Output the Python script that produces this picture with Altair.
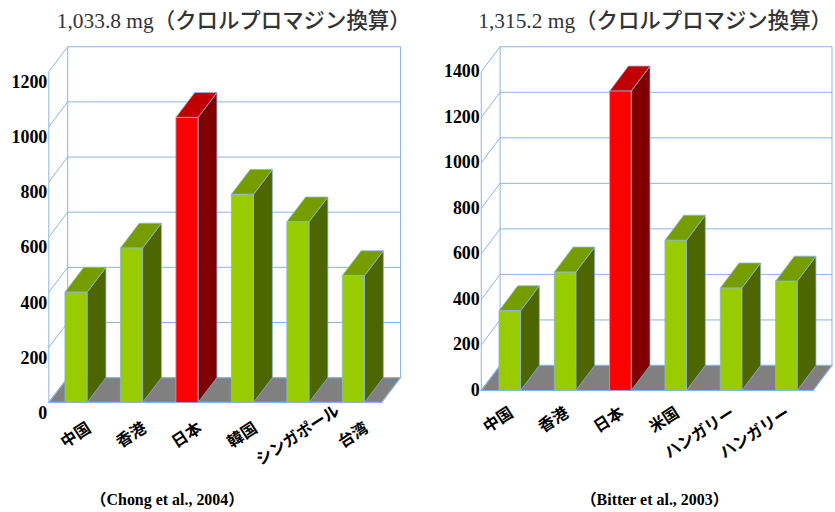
import math
import altair as alt
import pandas as pd

# ---------------- data ----------------
left_cats = ["中国", "香港", "日本", "韓国", "シンガポール", "台湾"]
left_vals = [400, 560, 1033.8, 755, 655, 460]
left_ticks = [0, 200, 400, 600, 800, 1000, 1200]
left_title = "1,033.8 mg（クロルプロマジン換算）"
left_source = "（Chong et al., 2004）"

right_cats = ["中国", "香港", "日本", "米国", "ハンガリー", "ハンガリー"]
right_vals = [350, 520, 1315.2, 660, 450, 480]
right_ticks = [0, 200, 400, 600, 800, 1000, 1200, 1400]
right_title = "1,315.2 mg（クロルプロマジン換算）"
right_source = "（Bitter et al., 2003）"

highlight = "日本"

# ---------------- style ----------------
SERIF = "Liberation Serif"
SERIF_JP = "Liberation Serif, Noto Sans CJK JP"
JP = "Noto Sans CJK JP"
GRID = "#8db3e2"
FLOOR = "#808080"
G_FRONT, G_TOP, G_SIDE = "#99cc00", "#769d00", "#4d6600"
R_FRONT, R_TOP, R_SIDE = "#ff0000", "#c00000", "#800000"
LABEL_ANGLE = 327


def local_offset(sx, sy, ang):
    phi = math.radians(ang)
    return (math.cos(phi) * sx + math.sin(phi) * sy,
            -math.sin(phi) * sx + math.cos(phi) * sy)


def panel(cats, vals, ticks, title, source, W, H, dxu, dyu, a, bw,
          lab_align, lab_sx, lab_sy, ylab_off, cap_x, cap_y, title_anchor, title_dx):
    n = len(cats)
    top = max(ticks)
    xsc = alt.Scale(domain=[0, n + dxu], nice=False, zero=False)
    ysc = alt.Scale(domain=[0, top + dyu], nice=False, zero=False)
    yax = alt.Axis(title=None, values=ticks, domain=False, ticks=False, grid=False,
                   labelFont=SERIF, labelFontWeight="bold", labelFontSize=18,
                   labelColor="#000", labelPadding=2, labelOffset=ylab_off, format="d")

    def X(f):
        return alt.X(f, type="quantitative", scale=xsc, axis=None)

    def Y(f):
        return alt.Y(f, type="quantitative", scale=ysc, axis=yax, title=None)

    # back wall gridlines
    grid_df = pd.DataFrame({"t": ticks})
    grid_df["y"] = grid_df["t"] + dyu
    grid_df["x"] = dxu
    grid_df["x2"] = n + dxu
    back = alt.Chart(grid_df).mark_rule(color=GRID, strokeWidth=1).encode(
        x=X("x"), x2="x2", y=Y("y"))

    # left wall diagonals
    diag_df = pd.DataFrame({"t": ticks})
    diag_df["x"] = 0.0
    diag_df["x2"] = dxu
    diag_df["y"] = diag_df["t"]
    diag_df["y2"] = diag_df["t"] + dyu
    diag = alt.Chart(diag_df).mark_rule(color=GRID, strokeWidth=1).encode(
        x=X("x"), x2="x2", y=Y("y"), y2="y2")

    # vertical frame edges
    edge_df = pd.DataFrame({"x": [0.0, dxu, n + dxu],
                            "y": [0.0, dyu, dyu],
                            "y2": [top, top + dyu, top + dyu]})
    edges = alt.Chart(edge_df).mark_rule(color=GRID, strokeWidth=1).encode(
        x=X("x"), y=Y("y"), y2="y2")

    # floor
    floor_df = pd.DataFrame({"y": [0.0, dyu], "x": [0.0, dxu], "x2": [n, n + dxu]})
    floor = alt.Chart(floor_df).mark_area(orient="horizontal", color=FLOOR,
                                          stroke=GRID, strokeWidth=1.2).encode(
        y=Y("y"), x=X("x"), x2="x2")

    is_hi = alt.datum.cat == highlight

    # bars
    bars = pd.DataFrame({"i": list(range(n)), "cat": cats, "v": vals})
    bars["x0"] = bars["i"] + a
    bars["x1"] = bars["x0"] + bw
    bars["zero"] = 0.0

    side_rows, top_rows = [], []
    for rec in bars.to_dict("records"):
        i, c, v, x0, x1 = rec["i"], rec["cat"], rec["v"], rec["x0"], rec["x1"]
        side_rows.append({"i": i, "cat": c, "x": x1, "y": 0.0, "y2": v})
        side_rows.append({"i": i, "cat": c, "x": x1 + dxu, "y": dyu, "y2": v + dyu})
        top_rows.append({"i": i, "cat": c, "y": v, "x": x0, "x2": x1})
        top_rows.append({"i": i, "cat": c, "y": v + dyu, "x": x0 + dxu, "x2": x1 + dxu})
    side_df = pd.DataFrame(side_rows)
    top_df = pd.DataFrame(top_rows)

    sides = alt.Chart(side_df).mark_area(orient="vertical", stroke=GRID, strokeWidth=0.8,
                                         opacity=1).encode(
        x=X("x"), y=Y("y"), y2="y2", detail="i:N",
        color=alt.when(is_hi).then(alt.value(R_SIDE)).otherwise(alt.value(G_SIDE)))
    tops = alt.Chart(top_df).mark_area(orient="horizontal", stroke=GRID, strokeWidth=0.8,
                                       opacity=1).encode(
        y=Y("y"), x=X("x"), x2="x2", detail="i:N",
        color=alt.when(is_hi).then(alt.value(R_TOP)).otherwise(alt.value(G_TOP)))
    fronts = alt.Chart(bars).mark_rect(stroke=GRID, strokeWidth=0.8).encode(
        x=X("x0"), x2="x1", y=Y("zero"), y2="v",
        color=alt.when(is_hi).then(alt.value(R_FRONT)).otherwise(alt.value(G_FRONT)))

    # category labels
    lab = bars[["i", "cat"]].copy()
    lab["xc"] = lab["i"] + a + bw / 2
    lab["zero"] = 0.0
    ldx, ldy = local_offset(lab_sx, lab_sy, LABEL_ANGLE)
    labels = alt.Chart(lab).mark_text(angle=LABEL_ANGLE, align=lab_align, baseline="middle",
                                      dx=ldx, dy=ldy, font=JP, fontWeight="bold",
                                      fontSize=16, color="#000").encode(
        x=X("xc"), y=Y("zero"), text="cat:N")

    # source caption under the panel
    cap_df = pd.DataFrame({"src": [source], "xc": [cap_x / W * (n + dxu)], "zero": [0.0]})
    caption = alt.Chart(cap_df).mark_text(font=SERIF_JP, fontWeight="bold", fontSize=16,
                                          color="#000", align="center", baseline="middle",
                                          dy=cap_y).encode(
        x=X("xc"), y=Y("zero"), text="src:N")

    return alt.layer(back, diag, edges, floor, sides, tops, fronts, labels, caption).properties(
        width=W, height=H,
        title=alt.TitleParams(title, font=SERIF_JP, fontSize=21.5, fontWeight=500,
                              color="#333", anchor=title_anchor, frame="group",
                              offset=14, dx=title_dx))


left = panel(left_cats, left_vals, left_ticks, left_title, left_source,
             W=353, H=357, dxu=0.34, dyu=90, a=0.29, bw=0.40,
             lab_align="center", lab_sx=0, lab_sy=33, ylab_off=11,
             cap_x=119, cap_y=98, title_anchor="start", title_dx=8)
right = panel(right_cats, right_vals, right_ticks, right_title, right_source,
              W=352, H=345, dxu=0.34, dyu=110, a=0.32, bw=0.39,
              lab_align="right", lab_sx=2, lab_sy=21, ylab_off=0,
              cap_x=174, cap_y=110, title_anchor="end", title_dx=0)

chart = alt.hconcat(left, right, spacing=81, bounds="flush").properties(
    padding={"left": 11, "top": 10, "right": 0, "bottom": 0},
    background="white"
).configure_view(stroke=None)

chart.save("out.html", embed_options={"renderer": "svg", "actions": False})
